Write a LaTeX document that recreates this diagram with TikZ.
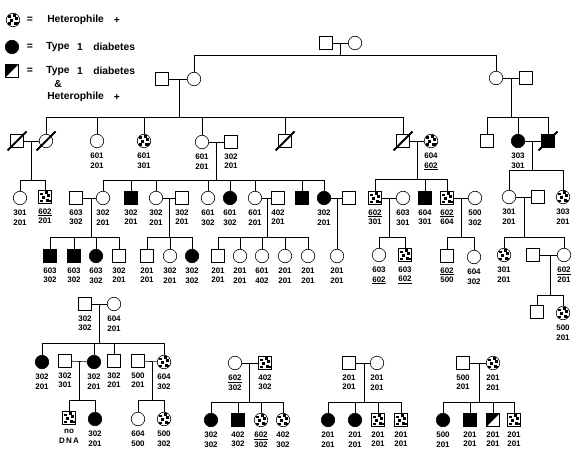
\documentclass[tikz,border=0pt]{standalone}
\usepackage{fontspec}
\setmainfont{Liberation Sans}
\usetikzlibrary{positioning,calc}

\tikzset{
  sq/.style={draw, rectangle, minimum size=12.5pt, inner sep=0pt},
  ci/.style={draw, circle, minimum size=13.5pt, inner sep=0pt},
  aff/.style={fill=black},
  het/.style={path picture={
    \foreach \hx/\hy in {-4.6/1.6, -0.4/3.2, 2.4/-0.2, -2.6/-2.2, 0.6/-4.6, -5.4/-5.4, 3.8/-5.4}
      \fill[black] ([shift={(\hx pt,\hy pt)}]path picture bounding box.center) rectangle +(2.9pt,2.9pt);}},
  half/.style={path picture={\fill[black] (path picture bounding box.south west) -- (path picture bounding box.north west) -- (path picture bounding box.north east) -- cycle;}},
  lbl/.style={font=\fontsize{8}{9.6}\selectfont\bfseries, align=center, inner sep=0pt},
  leg/.style={font=\fontsize{10.3}{12}\selectfont\bfseries, inner sep=0pt},
  slash/.style={line width=1.8pt}
}
\newcommand{\gt}[3]{\node[lbl, below=4.6pt of #1] (#1t) {#2\\#3};}
\newcommand{\deceased}[1]{\draw[slash] ([shift={(-9.5pt,-9.5pt)}]#1.center) -- ([shift={(9.5pt,9.5pt)}]#1.center);}

\begin{document}
\begin{tikzpicture}[x=1pt, y=-1pt, line width=0.6pt]
    \useasboundingbox (0,0) rectangle (583,457);

    % legend
    \node[ci, het] (leg1) at (13,20) {};
    \node[ci, aff] (leg2) at (12,47) {};
    \node[sq, half] (leg3) at (12,71) {};
    \node[leg] (eq1) at (30,20) {=};
    \node[leg, anchor=west] (lt1) at (47,20) {Heterophile};
    \node[leg] (pl1) at (117,20) {+};
    \node[leg] (eq2) at (30,47) {=};
    \node[leg, anchor=west] (lt2) at (46,47) {Type};
    \node[leg] (on2) at (80,47) {1};
    \node[leg, anchor=west] (dt2) at (93,47) {diabetes};
    \node[leg] (eq3) at (30,71) {=};
    \node[leg, anchor=west] (lt3) at (46,71) {Type};
    \node[leg] (on3) at (80,71) {1};
    \node[leg, anchor=west] (dt3) at (93,71) {diabetes};
    \node[leg] (amp) at (58,84) {\&};
    \node[leg, anchor=west] (lt4) at (47,97) {Heterophile};
    \node[leg] (pl4) at (117,97) {+};

    % generation I and II
    \node[sq] (i1) at (326,43) {};
    \node[ci] (i2) at (355,43) {};
    \node[sq] (ii1) at (162,79) {};
    \node[ci] (ii2) at (194,79) {};
    \node[ci] (ii3) at (496,78) {};
    \node[sq] (ii4) at (526,78) {};

    % generation III
    \node[sq] (iii1) at (17,141) {};
    \node[ci] (iii2) at (46,141) {};
    \node[ci] (iii3) at (97,141) {};
    \node[ci, het] (iii4) at (144,141) {};
    \node[ci] (iii5) at (202,142) {};
    \node[sq] (iii6) at (231,142) {};
    \node[sq] (iii7) at (285,141) {};
    \node[sq] (iii8) at (403,141) {};
    \node[ci, het] (iii9) at (431,141) {};
    \node[sq] (iii10) at (487,141) {};
    \node[ci, aff] (iii11) at (518,141) {};
    \node[sq, aff] (iii12) at (548,141) {};
    \deceased{iii1} \deceased{iii2} \deceased{iii7} \deceased{iii8} \deceased{iii12}

    % generation IV
    \node[ci] (iv1) at (20,198) {};
    \node[sq, het] (iv2) at (45,197) {};
    \node[sq] (iv3) at (76,198) {};
    \node[ci] (iv4) at (103,198) {};
    \node[sq, aff] (iv5) at (131,198) {};
    \node[ci] (iv6) at (156,198) {};
    \node[sq] (iv7) at (182,198) {};
    \node[ci] (iv8) at (208,198) {};
    \node[ci, aff] (iv9) at (230,198) {};
    \node[ci] (iv10) at (255,198) {};
    \node[sq] (iv11) at (278,198) {};
    \node[sq, aff] (iv12) at (302,198) {};
    \node[ci, aff] (iv13) at (324,198) {};
    \node[sq] (iv14) at (349,198) {};
    \node[sq, het] (iv15) at (375,198) {};
    \node[ci] (iv16) at (403,198) {};
    \node[sq, aff] (iv17) at (425,198) {};
    \node[sq, het] (iv18) at (447,198) {};
    \node[ci] (iv19) at (475,198) {};
    \node[ci] (iv20) at (509,197) {};
    \node[sq] (iv21) at (538,197) {};
    \node[ci, het] (iv22) at (563,197) {};

    % generation V
    \node[sq, aff] (v1) at (50,256) {};
    \node[sq, aff] (v2) at (74,256) {};
    \node[ci, aff] (v3) at (96,256) {};
    \node[sq] (v4) at (119,256) {};
    \node[sq] (v5) at (147,256) {};
    \node[ci] (v6) at (170,256) {};
    \node[ci, aff] (v7) at (192,256) {};
    \node[sq] (v8) at (218,256) {};
    \node[ci] (v9) at (240,256) {};
    \node[ci] (v10) at (262,256) {};
    \node[ci] (v11) at (285,256) {};
    \node[ci] (v12) at (308,256) {};
    \node[ci] (v13) at (337,256) {};
    \node[ci] (v14) at (379,255) {};
    \node[sq, het] (v15) at (405,255) {};
    \node[sq] (v16) at (447,256) {};
    \node[ci] (v17) at (474,257) {};
    \node[ci, het] (v18) at (504,255) {};
    \node[sq] (v19) at (533,255) {};
    \node[ci] (v20) at (564,255) {};
    \node[sq] (vi1) at (537,312) {};
    \node[ci, het] (vi2) at (563,313) {};

    % lower families
    \node[sq] (a1) at (85,304) {};
    \node[ci] (a2) at (114,304) {};
    \node[ci, aff] (b1) at (42,362) {};
    \node[sq] (b2) at (65,361) {};
    \node[ci, aff] (b3) at (94,362) {};
    \node[sq] (b4) at (114,361) {};
    \node[sq] (b5) at (138,361) {};
    \node[ci, het] (b6) at (164,362) {};
    \node[sq, het] (c1) at (69,418) {};
    \node[ci, aff] (c2) at (95,419) {};
    \node[ci] (c3) at (138,419) {};
    \node[ci, het] (c4) at (164,419) {};

    \node[ci] (d1) at (235,363) {};
    \node[sq, het] (d2) at (265,363) {};
    \node[ci, aff] (e1) at (211,420) {};
    \node[sq, aff] (e2) at (238,420) {};
    \node[ci, het] (e3) at (261,420) {};
    \node[ci, het] (e4) at (283,420) {};

    \node[sq] (f1) at (349,363) {};
    \node[ci] (f2) at (377,363) {};
    \node[ci, aff] (g1) at (328,420) {};
    \node[ci, aff] (g2) at (355,420) {};
    \node[sq, het] (g3) at (378,420) {};
    \node[sq, het] (g4) at (401,420) {};

    \node[sq] (h1) at (463,363) {};
    \node[ci, het] (h2) at (493,363) {};
    \node[ci, aff] (k1) at (443,420) {};
    \node[sq, aff] (k2) at (470,420) {};
    \node[sq, half] (k3) at (493,420) {};
    \node[sq, het] (k4) at (514,420) {};

    % genotypes
    \gt{iii3}{601}{201} \gt{iii4}{601}{301} \gt{iii5}{601}{201} \gt{iii6}{302}{201}
    \gt{iii9}{604}{\underline{602}} \gt{iii11}{303}{301}
    \gt{iv1}{301}{201} \gt{iv2}{\underline{602}}{201} \gt{iv3}{603}{302} \gt{iv4}{302}{201}
    \gt{iv5}{302}{201} \gt{iv6}{302}{201} \gt{iv7}{302}{201} \gt{iv8}{601}{302}
    \gt{iv9}{601}{302} \gt{iv10}{601}{201} \gt{iv11}{402}{201} \gt{iv13}{302}{201}
    \gt{iv15}{\underline{602}}{301} \gt{iv16}{603}{301} \gt{iv17}{604}{301}
    \gt{iv18}{\underline{602}}{604} \gt{iv19}{500}{302} \gt{iv20}{301}{201} \gt{iv22}{303}{201}
    \gt{v1}{603}{302} \gt{v2}{603}{302} \gt{v3}{603}{302} \gt{v4}{302}{201}
    \gt{v5}{201}{201} \gt{v6}{302}{201} \gt{v7}{302}{302} \gt{v8}{201}{201}
    \gt{v9}{201}{201} \gt{v10}{601}{402} \gt{v11}{201}{201} \gt{v12}{201}{201}
    \gt{v13}{201}{201} \gt{v14}{603}{\underline{602}} \gt{v15}{603}{\underline{602}}
    \gt{v16}{\underline{602}}{500} \gt{v17}{604}{302} \gt{v18}{301}{201}
    \gt{v20}{\underline{602}}{201} \gt{vi2}{500}{201}
    \gt{a1}{302}{302} \gt{a2}{604}{201}
    \gt{b1}{302}{201} \gt{b2}{302}{301} \gt{b3}{302}{201} \gt{b4}{302}{201}
    \gt{b5}{500}{201} \gt{b6}{604}{302}
    \gt{c1}{no}{D\,N\,A} \gt{c2}{302}{201} \gt{c3}{604}{500} \gt{c4}{500}{302}
    \gt{d1}{\underline{602}}{302} \gt{d2}{402}{302}
    \gt{e1}{302}{302} \gt{e2}{402}{302} \gt{e3}{\underline{602}}{302} \gt{e4}{402}{302}
    \gt{f1}{201}{201} \gt{f2}{201}{201}
    \gt{g1}{201}{201} \gt{g2}{201}{201} \gt{g3}{201}{201} \gt{g4}{201}{201}
    \gt{h1}{500}{201} \gt{h2}{201}{201}
    \gt{k1}{500}{201} \gt{k2}{201}{201} \gt{k3}{201}{201} \gt{k4}{201}{201}

    % marriage and descent points
    \coordinate (x1) at (340,43);  \coordinate (y1) at (340,55);
    \coordinate (x2) at (179,79);  \coordinate (y2) at (179,117);
    \coordinate (x3) at (511,78);  \coordinate (y3) at (511,117);
    \coordinate (x4) at (31,141);  \coordinate (y4) at (31,180);
    \coordinate (x5) at (216,142); \coordinate (y5) at (216,180);
    \coordinate (x6) at (417,141); \coordinate (y6) at (417,179);
    \coordinate (x7) at (532,141); \coordinate (y7) at (532,170);
    \coordinate (x8) at (91,198);  \coordinate (y8) at (91,237);
    \coordinate (x9) at (169,198); \coordinate (y9) at (169,237);
    \coordinate (x10) at (267,198); \coordinate (y10) at (267,237);
    \coordinate (x11) at (337,198);
    \coordinate (x12) at (389,198); \coordinate (y12) at (389,237);
    \coordinate (x13) at (461,198); \coordinate (y13) at (461,237);
    \coordinate (x14) at (524,197); \coordinate (y14) at (524,237);
    \coordinate (x15) at (550,255); \coordinate (y15) at (550,295);
    \coordinate (xa) at (99,304);  \coordinate (ya) at (99,343);
    \coordinate (xb) at (79,362);  \coordinate (yb) at (79,400);
    \coordinate (xc) at (152,362); \coordinate (yc) at (152,400);
    \coordinate (xd) at (249,363); \coordinate (yd) at (249,402);
    \coordinate (xf) at (364,363); \coordinate (yf) at (364,402);
    \coordinate (xh) at (479,363); \coordinate (yh) at (479,402);

    % couples
    \foreach \m/\f in {i1/i2, ii1/ii2, ii3/ii4, iii1/iii2, iii5/iii6, iii8/iii9, iii11/iii12,
        iv3/iv4, iv6/iv7, iv10/iv11, iv13/iv14, iv15/iv16, iv18/iv19, iv20/iv21, v19/v20,
        a1/a2, b2/b3, b5/b6, d1/d2, f1/f2, h1/h2}
      \draw (\m) -- (\f);

    % descent lines
    \foreach \n in {1,2,3,4,5,6,7,8,9,10,12,13,14,15,a,b,c,d,f,h}
      \draw (x\n) -- (y\n);
    \draw (x11) -- (v13);

    % sibships
    \foreach \s/\l/\r in {1/ii2/ii3, 2/iii2/iii8, 3/iii10/iii12, 4/iv1/iv2, 5/iv4/iv13,
        6/iv15/iv18, 7/iv20/iv22, 8/v1/v4, 9/v5/v7, 10/v8/v12, 12/v14/v15, 13/v16/v17,
        14/v18/v20, 15/vi1/vi2, a/b1/b6, b/c1/c2, c/c3/c4, d/e1/e4, f/g1/g4, h/k1/k4}
      \draw (\l |- y\s) -- (\r |- y\s);

    \foreach \k/\s in {ii2/1, ii3/1, iii2/2, iii3/2, iii4/2, iii5/2, iii7/2, iii8/2,
        iii10/3, iii11/3, iii12/3, iv1/4, iv2/4,
        iv4/5, iv5/5, iv6/5, iv8/5, iv9/5, iv10/5, iv12/5, iv13/5,
        iv15/6, iv17/6, iv18/6, iv20/7, iv22/7,
        v1/8, v2/8, v3/8, v4/8, v5/9, v6/9, v7/9, v8/10, v9/10, v10/10, v11/10, v12/10,
        v14/12, v15/12, v16/13, v17/13, v18/14, v20/14, vi1/15, vi2/15,
        b1/a, b3/a, b4/a, b6/a, c1/b, c2/b, c3/c, c4/c,
        e1/d, e2/d, e3/d, e4/d, g1/f, g2/f, g3/f, g4/f, k1/h, k2/h, k3/h, k4/h}
      \draw (\k) -- (\k |- y\s);
\end{tikzpicture}
\end{document}
